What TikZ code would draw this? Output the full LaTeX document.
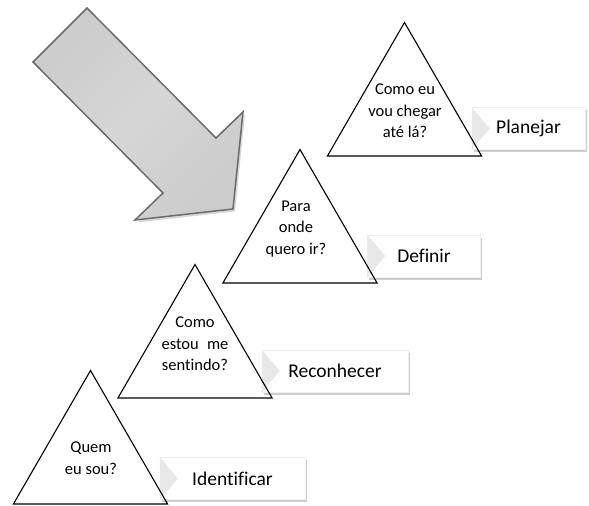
\documentclass[tikz,border=0pt]{standalone}
\usepackage{fontspec}
\setmainfont{Carlito}[Ligatures=NoCommon]
\usetikzlibrary{shapes.geometric,shadows}
\definecolor{arrowline}{HTML}{6B6B6B}
\tikzset{
  tri/.style={regular polygon, regular polygon sides=3, minimum size=178pt, inner sep=0pt, draw=black, line width=1.1pt},
  qtext/.style={align=center, inner sep=0pt, font=\fontsize{16.5}{21.5}\selectfont},
  labelbox/.style={rectangle, fill=white, draw=gray!12, line width=0.4pt, inner sep=0pt,
     minimum height=42pt, font=\fontsize{19.5}{23}\selectfont,
     drop shadow={shadow xshift=1.5pt, shadow yshift=-2.5pt, fill=gray!70, opacity=0.55}},
  notch/.style={fill=gray!18, draw=none},
  bigarrow/.style={draw=arrowline, line width=1.5pt, line join=miter,
     top color=gray!40, bottom color=gray!40, middle color=gray!32, shading angle=45,
     drop shadow={shadow xshift=2pt, shadow yshift=-2.5pt, fill=gray!60, opacity=0.5}}
}
\begin{document}
\begin{tikzpicture}[x=1pt,y=-1pt]
\useasboundingbox[fill=white] (0,0) rectangle (589,506);

% big arrow
\path[bigarrow] (87,8) -- (216,138) -- (243,112) -- (233,209) -- (135,220) -- (163,193) -- (33,62) -- cycle;

% label boxes
\node[labelbox, minimum width=113pt] (b4) at (528.5,128.5) {Planejar};
\node[labelbox, minimum width=113pt] (b3) at (424,256) {Definir};
\node[labelbox, minimum width=146pt] (b2) at (335,371) {Reconhecer};
\node[labelbox, minimum width=145pt] (b1) at (232.5,478.5) {Identificar};
\foreach \b in {b4,b3,b2,b1}{
  \path[notch] (\b.north west) -- ([xshift=18pt]\b.west) -- (\b.south west) -- cycle;
}

% triangles
\node[tri] (t4) at (404.5,111.5) {};
\node[tri] (t3) at (300,238.5) {};
\node[tri] (t2) at (195,353.5) {};
\node[tri] (t1) at (90.5,459.5) {};

% questions
\node[qtext] (q4) at (405,111) {Como eu\\vou chegar\\até lá?};
\node[qtext] (q3) at (296,229) {Para\\onde\\quero ir?};
\node[qtext] (q2) at (195,344) {Como\\estou\enspace me\\sentindo?};
\node[qtext] (q1) at (91,458) {Quem\\eu sou?};
\end{tikzpicture}
\end{document}
